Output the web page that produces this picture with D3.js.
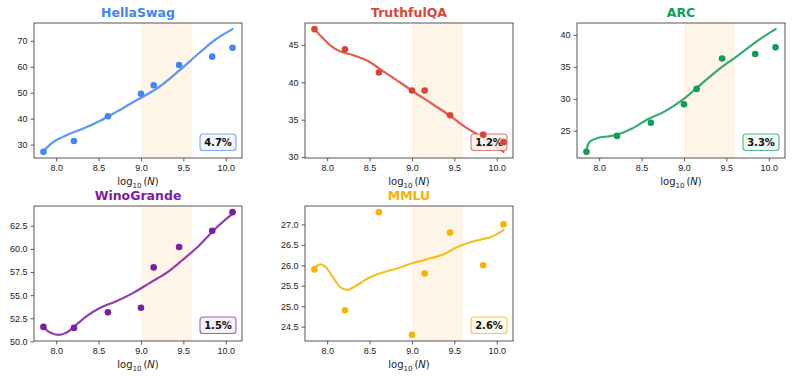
<!DOCTYPE html>
<html>
<head>
<meta charset="utf-8">
<script src="https://cdn.jsdelivr.net/npm/d3@7"></script>
<style>
  body { margin: 0; background: #fff; }
  svg { font-family: "DejaVu Sans", sans-serif; }
</style>
</head>
<body>
<svg id="chart" width="792" height="380"></svg>
<script>

// model sizes, log10(N)
const logN = [7.85, 8.21, 8.61, 9.0, 9.15, 9.45, 9.84, 10.08];

// benchmark names, colours and the error box label
const benchmarks = ["HellaSwag", "TruthfulQA", "ARC", "WinoGrande", "MMLU"];
const colors = ["#4285F4", "#DB4437", "#0F9D58", "#7B1FA2", "#F4B400"];
const errLabels = ["4.7%", "1.2%", "3.3%", "1.5%", "2.6%"];

// measured scores
const hellaswag = [27.2, 31.4, 40.9, 49.6, 52.9, 60.7, 63.9, 67.3];
const truthfulqa = [47.1, 44.4, 41.3, 38.9, 38.9, 35.6, 33.0, 32.0];
const arc = [21.7, 24.2, 26.25, 29.15, 31.55, 36.3, 37.0, 38.05];
const winogrande = [51.57, 51.46, 53.14, 53.64, 58.0, 60.2, 61.96, 63.97];
const mmlu = [25.9, 24.9, 27.3, 24.3, 25.8, 26.8, 26.0, 27.0];
const scores = [hellaswag, truthfulqa, arc, winogrande, mmlu];

// fitted curves [log10(N), score]
const fitHellaswag = [[7.85, 27.6], [7.87, 28.2], [7.97, 31.1], [8.125, 33.7], [8.32, 36.2], [8.52, 39.2],
  [8.71, 42.6], [8.91, 46.4], [9.2, 51.9], [9.45, 58.5], [9.69, 65.4], [9.88, 70.5], [10.08, 74.5]];
const fitTruthfulqa = [[7.85, 47.1], [7.94, 46.0], [8.04, 44.9], [8.155, 44.1], [8.31, 43.6], [8.47, 42.9],
  [8.62, 41.8], [8.855, 40.0], [9.05, 38.5], [9.24, 37.1], [9.44, 35.6], [9.63, 34.0], [9.79, 32.9], [10.08, 30.7]];
const fitArc = [[7.85, 22.0], [7.89, 23.3], [7.99, 23.9], [8.1, 24.1], [8.22, 24.4], [8.38, 25.3], [8.58, 26.85],
  [8.77, 28.0], [8.97, 29.7], [9.16, 31.8], [9.4, 34.5], [9.64, 36.8], [9.87, 39.1], [10.08, 40.9]];
const fitWinogrande = [[7.85, 51.57], [7.93, 50.96], [8.03, 50.71], [8.125, 50.96], [8.22, 51.67], [8.36, 52.74],
  [8.52, 53.64], [8.71, 54.35], [8.91, 55.25], [9.1, 56.3], [9.3, 57.4], [9.49, 58.8], [9.69, 60.4], [9.88, 62.2], [10.08, 63.8]];
const fitMmlu = [[7.85, 25.92], [7.89, 26.0], [7.93, 26.02], [7.99, 25.94], [8.07, 25.7], [8.16, 25.46], [8.24, 25.4],
  [8.34, 25.5], [8.5, 25.7], [8.65, 25.82], [8.85, 25.94], [9.0, 26.05], [9.16, 26.14], [9.36, 26.26], [9.55, 26.46],
  [9.75, 26.6], [9.94, 26.7], [10.08, 26.86]];
const fits = [fitHellaswag, fitTruthfulqa, fitArc, fitWinogrande, fitMmlu];

// y tick values
const yTicks = [
  [30, 40, 50, 60, 70],
  [30, 35, 40, 45],
  [25, 30, 35, 40],
  [50.0, 52.5, 55.0, 57.5, 60.0, 62.5],
  [24.5, 25.0, 25.5, 26.0, 26.5, 27.0]
];
const yFormats = ["d", "d", "d", ".1f", ".1f"];
const xTicks = [8.0, 8.5, 9.0, 9.5, 10.0];

// shaded band
const band = [9.0, 9.6];

const svg = d3.select("#chart");

// panel boxes
const colLeft = [34, 305, 577];
const rowTop = [23, 206];
const pw = 208, ph = 135;

benchmarks.forEach((name, k) => {
  const col = k % 3, row = Math.floor(k / 3);
  const left = colLeft[col], top = rowTop[row];
  const color = colors[k];

  // 5% margins like matplotlib
  const xExt = d3.extent(logN);
  const xPad = (xExt[1] - xExt[0]) * 0.05;
  const x = d3.scaleLinear()
    .domain([xExt[0] - xPad, xExt[1] + xPad])
    .range([left, left + pw]);

  const allY = scores[k].concat(fits[k].map(d => d[1]));
  const yExt = d3.extent(allY);
  const yPad = (yExt[1] - yExt[0]) * 0.05;
  const y = d3.scaleLinear()
    .domain([yExt[0] - yPad, yExt[1] + yPad])
    .range([top + ph, top]);

  const g = svg.append("g");

  // shaded region
  g.append("rect")
    .attr("x", x(band[0]))
    .attr("y", top)
    .attr("width", x(band[1]) - x(band[0]))
    .attr("height", ph)
    .attr("fill", "#fef5e8");

  // axes
  const xAxis = g.append("g")
    .attr("transform", `translate(0,${top + ph})`)
    .call(d3.axisBottom(x).tickValues(xTicks).tickFormat(d3.format(".1f")).tickSize(3.5).tickPadding(3));
  const yAxis = g.append("g")
    .attr("transform", `translate(${left},0)`)
    .call(d3.axisLeft(y).tickValues(yTicks[k]).tickFormat(d3.format(yFormats[k])).tickSize(3.5).tickPadding(3));
  [xAxis, yAxis].forEach(a => {
    a.select(".domain").remove();
    a.selectAll("line").attr("stroke", "#333").attr("stroke-width", 0.8);
    a.selectAll("text").attr("fill", "#222").style("font-size", "9px");
  });

  // fitted curve
  const line = d3.line()
    .x(d => x(d[0]))
    .y(d => y(d[1]))
    .curve(d3.curveCatmullRom.alpha(0.5));
  g.append("path")
    .datum(fits[k])
    .attr("d", line)
    .attr("fill", "none")
    .attr("stroke", color)
    .attr("stroke-opacity", 0.85)
    .attr("stroke-width", 2.2)
    .attr("stroke-linecap", "round");

  // error box
  const bx = left + pw - 42, by = top + ph - 24;
  g.append("rect")
    .attr("x", bx)
    .attr("y", by)
    .attr("width", 36)
    .attr("height", 16.5)
    .attr("rx", 3)
    .attr("fill", d3.interpolateRgb("#ffffff", color)(0.08))
    .attr("fill-opacity", 0.85)
    .attr("stroke", color)
    .attr("stroke-opacity", 0.7)
    .attr("stroke-width", 1.1);
  g.append("text")
    .attr("x", bx + 18)
    .attr("y", by + 12)
    .attr("text-anchor", "middle")
    .style("font-size", "10px")
    .style("font-weight", "bold")
    .attr("fill", "#111")
    .text(errLabels[k]);

  // points
  g.selectAll("circle")
    .data(logN)
    .enter()
    .append("circle")
    .attr("cx", d => x(d))
    .attr("cy", (d, i) => y(scores[k][i]))
    .attr("r", 3.3)
    .attr("fill", color);

  // frame
  g.append("rect")
    .attr("x", left)
    .attr("y", top)
    .attr("width", pw)
    .attr("height", ph)
    .attr("fill", "none")
    .attr("stroke", "#444")
    .attr("stroke-width", 0.9);

  // title
  g.append("text")
    .attr("x", left + pw / 2)
    .attr("y", top - 6)
    .attr("text-anchor", "middle")
    .style("font-size", "12.5px")
    .style("font-weight", "bold")
    .attr("fill", color)
    .text(name);

  // x label
  const xl = g.append("text")
    .attr("x", left + pw / 2)
    .attr("y", top + ph + 27)
    .attr("text-anchor", "middle")
    .style("font-size", "10px")
    .attr("fill", "#222");
  xl.append("tspan").text("log");
  xl.append("tspan").attr("dy", 2.5).style("font-size", "7px").text("10");
  xl.append("tspan").attr("dy", -2.5).text("\u2009(");
  xl.append("tspan").style("font-style", "italic").text("N");
  xl.append("tspan").text(")");
});

</script>
</body>
</html>
